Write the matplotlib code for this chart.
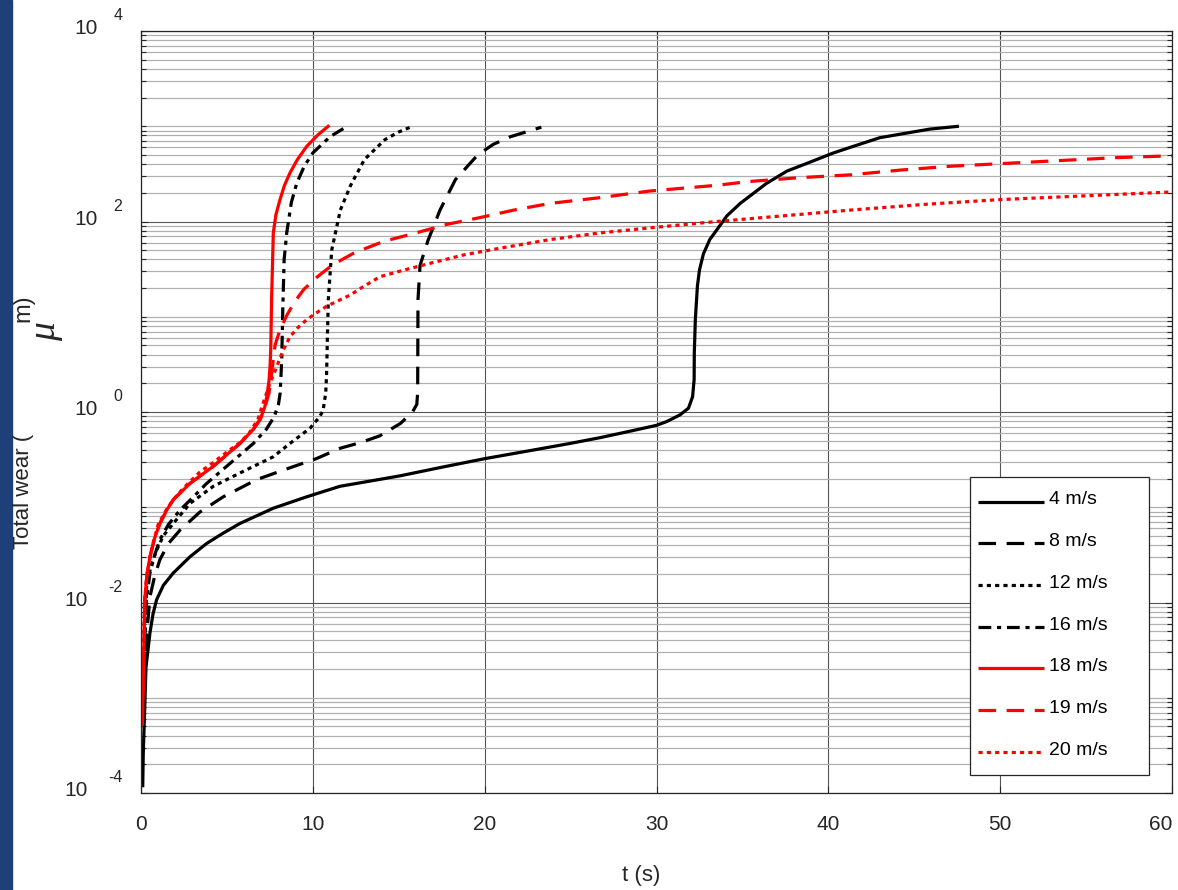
import numpy as np
import matplotlib
matplotlib.use("Agg")
import matplotlib.pyplot as plt
from matplotlib.ticker import LogLocator, NullFormatter
from matplotlib.patches import Rectangle

plt.rcParams['font.family'] = ['Liberation Sans', 'DejaVu Sans']

# ---- data (t in s, wear as log10 of micrometres) ----
t4 = [0.1, 0.13, 0.17, 0.29, 0.52, 0.7, 0.91, 1.3, 1.88, 2.85, 3.82, 4.8, 5.76, 7.7, 9.65,
      11.58, 13.5, 15.08, 17.5, 20.0, 22.5, 24.97, 26.7, 28.5, 30.0, 30.6, 31.37, 31.86,
      32.1, 32.19, 32.2, 32.26, 32.38, 32.5, 32.73, 33.1, 33.5, 34.1, 34.87, 35.6, 36.4,
      37.6, 38.75, 40.3, 41.3, 43.0, 45.9, 47.6]
e4 = [-3.94, -3.6, -3.37, -2.68, -2.32, -2.12, -1.97, -1.82, -1.69, -1.52, -1.38, -1.27,
      -1.17, -1.01, -0.89, -0.78, -0.72, -0.67, -0.58, -0.49, -0.41, -0.33, -0.27, -0.20,
      -0.14, -0.10, -0.03, 0.04, 0.16, 0.34, 0.62, 0.97, 1.32, 1.49, 1.66, 1.81, 1.91,
      2.06, 2.19, 2.29, 2.40, 2.53, 2.61, 2.72, 2.78, 2.88, 2.97, 3.0]

t8 = [0.1, 0.3, 0.52, 0.8, 1.1, 1.6, 2.27, 3.43, 4.79, 6.73, 8.28, 10.2, 11.6, 12.8, 13.9,
      15.1, 15.8, 16.05, 16.1, 16.12, 16.24, 16.7, 17.4, 18.3, 19.6, 20.5, 21.5, 23.3]
e8 = [-3.1, -2.4, -1.94, -1.72, -1.55, -1.38, -1.24, -1.05, -0.89, -0.71, -0.61, -0.49,
      -0.38, -0.32, -0.25, -0.12, 0.0, 0.08, 0.2, 1.18, 1.54, 1.8, 2.12, 2.44, 2.70, 2.81,
      2.89, 2.99]

t12 = [0.1, 0.33, 0.6, 0.91, 1.3, 1.88, 2.85, 4.21, 5.76, 7.7, 8.67, 9.84, 10.4, 10.6,
       10.75, 10.8, 10.85, 10.9, 11.1, 11.6, 12.2, 13.0, 14.2, 15.0, 15.8]
e12 = [-3.0, -1.83, -1.6, -1.45, -1.3, -1.17, -0.96, -0.78, -0.64, -0.47, -0.33, -0.17,
       -0.05, 0.02, 0.2, 0.40, 0.8, 1.18, 1.70, 2.12, 2.38, 2.65, 2.86, 2.94, 3.0]

t16 = [0.1, 0.3, 0.52, 0.8, 1.1, 1.6, 2.27, 3.0, 3.82, 5.18, 6.54, 7.3, 7.75, 8.0, 8.1,
       8.19, 8.25, 8.33, 8.48, 8.75, 9.06, 9.5, 10.0, 11.0, 12.0]
e16 = [-3.0, -2.0, -1.69, -1.5, -1.34, -1.18, -1.03, -0.9, -0.75, -0.54, -0.33, -0.18,
       -0.05, 0.08, 0.20, 0.55, 1.07, 1.6, 1.88, 2.2, 2.40, 2.58, 2.72, 2.89, 3.0]

t18 = [0.08, 0.12, 0.23, 0.35, 0.52, 0.8, 1.1, 1.5, 1.88, 2.85, 4.21, 5.76, 6.5, 6.93,
       7.2, 7.32, 7.45, 7.51, 7.55, 7.6, 7.7, 7.85, 8.09, 8.35, 8.67, 9.1, 9.65, 10.3,
       10.96]
e18 = [-3.29, -2.9, -1.94, -1.7, -1.52, -1.32, -1.17, -1.03, -0.92, -0.75, -0.57, -0.33,
       -0.19, -0.08, 0.05, 0.16, 0.33, 0.48, 0.65, 1.18, 1.88, 2.07, 2.23, 2.38, 2.51,
       2.65, 2.79, 2.91, 3.01]

t19 = [0.08, 0.12, 0.23, 0.35, 0.52, 0.8, 1.1, 1.5, 1.88, 2.85, 4.21, 5.76, 6.5, 6.93,
       7.2, 7.45, 7.6, 7.8, 8.1, 8.5, 8.95, 9.49, 10.2, 10.9, 11.6, 12.4, 14.1, 16.0, 17.8,
       19.7, 21.7, 23.8, 26.7, 29.6, 33.5, 35.4, 38.3, 41.3, 44.2, 47.1, 50.3, 53.5, 56.7,
       60.0]
e19 = [-3.29, -2.9, -1.94, -1.7, -1.52, -1.32, -1.17, -1.03, -0.92, -0.75, -0.57, -0.33,
       -0.19, -0.08, 0.04, 0.2, 0.4, 0.70, 0.87, 1.02, 1.16, 1.29, 1.41, 1.51, 1.59, 1.67,
       1.79, 1.88, 1.97, 2.04, 2.12, 2.19, 2.25, 2.32, 2.38, 2.42, 2.46, 2.49, 2.54, 2.58,
       2.61, 2.64, 2.67, 2.69]

t20 = [0.06, 0.1, 0.2, 0.33, 0.45, 0.7, 1.0, 1.5, 1.88, 2.46, 3.43, 4.21, 5.0, 5.76, 6.3,
       6.8, 7.1, 7.5, 7.9, 8.25, 8.67, 9.15, 9.65, 10.2, 10.8, 12.2, 12.7, 13.9, 15.3,
       16.8, 18.8, 20.9, 23.8, 26.7, 30.0, 33.5, 37.4, 41.3, 45.6, 50.0, 55.0, 60.0]
e20 = [-3.29, -2.85, -2.0, -1.75, -1.6, -1.38, -1.18, -1.02, -0.92, -0.80, -0.63, -0.53,
       -0.42, -0.32, -0.22, -0.08, 0.09, 0.30, 0.475, 0.64, 0.79, 0.89, 0.97, 1.04, 1.11,
       1.23, 1.29, 1.42, 1.49, 1.56, 1.65, 1.72, 1.81, 1.88, 1.94, 2.0, 2.06, 2.12, 2.18,
       2.23, 2.27, 2.31]

labels = ['4 m/s', '8 m/s', '12 m/s', '16 m/s', '18 m/s', '19 m/s', '20 m/s']
xticks = [0, 10, 20, 30, 40, 50, 60]
yexps = [-4, -2, 0, 2, 4]

series = [(t4, e4), (t8, e8), (t12, e12), (t16, e16), (t18, e18), (t19, e19), (t20, e20)]
colors = ['black', 'black', 'black', 'black', 'red', 'red', 'red']
styles = ['-', (0, (5.5, 3.3)), (0, (1.3, 1.3)), (0, (4, 1.8, 1.3, 1.8)),
          '-', (0, (5.5, 3.3)), (0, (1.3, 1.3))]

fig = plt.figure(figsize=(11.78, 8.9), dpi=100)
fig.patches.append(Rectangle((0, 0), 12 / 1178, 1, transform=fig.transFigure,
                             color='#1e3f78', zorder=0))
ax = fig.add_axes([141 / 1178, 97 / 890, 1031 / 1178, 762 / 890])

for (tt, ee), c, ls, lab in zip(series, colors, styles, labels):
    ax.semilogy(tt, 10.0 ** np.array(ee), color=c, linestyle=ls, lw=2.3, label=lab,
                solid_capstyle='butt', dash_capstyle='butt', solid_joinstyle='round')

ax.set_xlim(0, 60)
ax.set_ylim(1e-4, 1e4)
ax.set_xticks(xticks)
ax.set_xticklabels([str(x) for x in xticks])
ax.get_xticklabels()[-1].set_ha('right')
ax.set_yticks([10.0 ** e for e in yexps])
ax.yaxis.set_minor_locator(LogLocator(base=10, subs=np.arange(1, 10), numticks=100))
ax.yaxis.set_major_formatter(NullFormatter())
ax.yaxis.set_minor_formatter(NullFormatter())

ax.grid(True, which='major', color='#555555', lw=0.8)
ax.grid(True, which='minor', axis='y', color='#b0b0b0', lw=0.9)
ax.tick_params(which='both', direction='in', top=True, right=True, colors='#262626')
ax.tick_params(which='major', length=5, width=0.8, labelsize=15, pad=16)
ax.tick_params(which='minor', length=3.5, width=0.8)
for s in ax.spines.values():
    s.set_color('#262626')
    s.set_linewidth(0.9)

# y tick labels in the "10  ^e" form
for e in yexps:
    off10 = -38 if e < 0 else -31
    ax.annotate('10', xy=(0, 10.0 ** e), xycoords=('axes fraction', 'data'),
                xytext=(off10, 1.5), textcoords='offset points', ha='right', va='center',
                fontsize=15, color='#262626')
    ax.annotate(str(e), xy=(0, 10.0 ** e), xycoords=('axes fraction', 'data'),
                xytext=(-13.5, 11), textcoords='offset points', ha='right', va='center',
                fontsize=11.5, color='#262626')

# legend: own frame box, entries drawn without frame, text lifted above its line
ax.add_patch(Rectangle((829 / 1031, 18 / 762), 179 / 1031, 298 / 762, transform=ax.transAxes,
                       facecolor='white', edgecolor='#262626', lw=0.9, zorder=4.5))
leg = ax.legend(loc='upper left', bbox_to_anchor=(829 / 1031, 306 / 762), frameon=False,
                fontsize=14, handlelength=3.4, handletextpad=0.26, labelspacing=1.24,
                borderpad=0.4, borderaxespad=0)
leg.set_zorder(5)
for txt in leg.get_texts():
    txt.set_va('bottom')

# y label pieces
fig.text(23 / 1178, (890 - 549) / 890, 'Total wear (', rotation=90, ha='center',
         va='bottom', fontsize=16, color='#262626')
fig.text(46 / 1178, (890 - 332) / 890, 'μ', rotation=90, ha='center', va='center',
         fontsize=27, style='italic', family='Liberation Serif', color='#262626')
fig.text(23 / 1178, (890 - 308) / 890, 'm)', rotation=90, ha='center', va='center',
         fontsize=17, color='#262626')
fig.text(641 / 1178, (890 - 876) / 890, 't (s)', ha='center', va='center', fontsize=16,
         color='#262626')

fig.savefig('out.png', dpi=100)
